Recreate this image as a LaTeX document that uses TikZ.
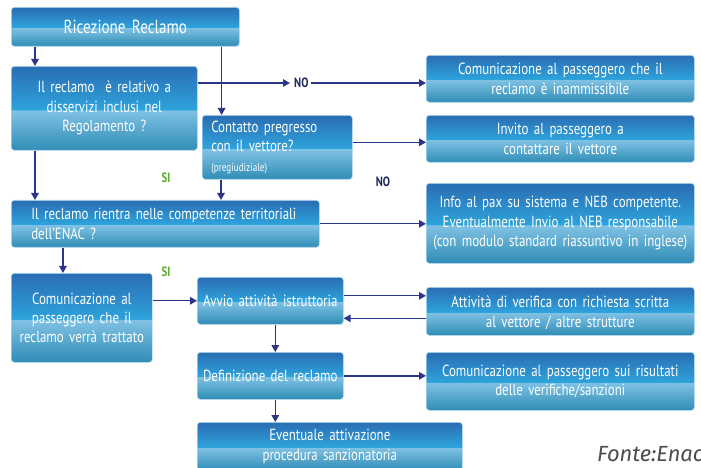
\documentclass[tikz,border=0pt]{standalone}
\usepackage{fontspec}
\setmainfont{PT Sans}[FakeStretch=0.80]
\newfontfamily\sourcefont{Fira Sans}
\usetikzlibrary{arrows.meta}

% box gradient: dark blue top, bright band, light break, teal bottom
\definecolor{gT}{HTML}{2A6DB2}
\definecolor{gM}{HTML}{2EA3DC}
\definecolor{gL}{HTML}{80C2E4}
\definecolor{gB}{HTML}{2F8CB6}
\definecolor{gEdge}{HTML}{B4DAEE}
\definecolor{navy}{HTML}{2B358C}
\definecolor{navyDark}{HTML}{1F2A5C}
\definecolor{siGreen}{HTML}{5BAA2E}

\pgfdeclareverticalshading{glossy}{100bp}{color(0bp)=(gB); color(25bp)=(gB); color(48.8bp)=(gL); color(49.2bp)=(gM); color(75bp)=(gT); color(100bp)=(gT)}

% condensed text with tighter word spaces
\newcommand\boxfont{\fontsize{16.2}{19.5}\selectfont\spaceskip=0.2em plus 0.05em\relax\hyphenpenalty=10000\relax}
\newcommand\bigboxfont{\fontsize{19}{21}\selectfont\spaceskip=0.2em\relax}
\newcommand\notefont{\fontsize{11.5}{14}\selectfont}
\newcommand\labfont{\fontsize{13.5}{15}\selectfont\bfseries}

\begin{document}
\begin{tikzpicture}[x=1bp,y=-1bp,
  gbox/.style={shade, shading=glossy, draw=gEdge, line width=0.6bp,
    rounded corners=3bp, text=white, inner sep=0pt, anchor=north west,
    align=center, font=\boxfont},
  arr/.style={draw=navy, line width=1.4bp, -{Triangle[length=7bp,width=7.5bp]}},
  nolab/.style={text=navyDark, font=\labfont, inner sep=2bp},
  silab/.style={text=siGreen, font=\labfont, inner sep=2bp}]

\fill[white] (0,0) rectangle (701,468);
\useasboundingbox (0,0) rectangle (701,468);

% left / central column
\node[gbox, font=\bigboxfont, text width=228bp, minimum height=39bp] (r) at (11,7) {Ricezione Reclamo};
\node[gbox, text width=186bp, minimum height=84bp] (q1) at (11,66)
  {Il reclamo \ è relativo a\\disservizi inclusi nel\\Regolamento ?};
\node[gbox, align=left, inner xsep=9bp, text width=132bp, minimum height=64bp] (q2) at (202,115)
  {Contatto pregresso\\con il vettore?\\{\notefont (pregiudiziale)}};
\node[gbox, align=left, inner xsep=20bp, text width=268bp, minimum height=47bp] (q3) at (11,200)
  {Il reclamo rientra nelle competenze territoriali\\dell’ENAC ?};
\node[gbox, text width=141bp, minimum height=89bp] (b1) at (11,273)
  {Comunicazione al\\passeggero che il\\reclamo verrà trattato};
\node[gbox, text width=146bp, minimum height=47bp] (b2) at (197,277) {Avvio attività istruttoria};
\node[gbox, text width=146bp, minimum height=47bp] (b3) at (197,352) {Definizione del reclamo};
\node[gbox, text width=265bp, minimum height=48bp] (b4) at (197,422)
  {Eventuale attivazione\\procedura sanzionatoria};

% right column
\node[gbox, text width=268bp, minimum height=47bp] (a1) at (426,55)
  {Comunicazione al passeggero che il\\reclamo è inammissibile};
\node[gbox, text width=268bp, minimum height=47bp] (a2) at (426,115)
  {Invito al passeggero a\\contattare il vettore};
\node[gbox, text width=268bp, minimum height=80bp] (a3) at (426,183)
  {Info al pax su sistema e NEB competente.\\Eventualmente Invio al NEB responsabile\\(con modulo standard riassuntivo in inglese)};
\node[gbox, text width=268bp, minimum height=48bp] (a4) at (426,287)
  {\\[-5bp]Attività di verifica con richiesta scritta\\al vettore / altre strutture};
\node[gbox, text width=268bp, minimum height=58bp] (a5) at (426,352)
  {Comunicazione al passeggero sui risultati\\delle verifiche/sanzioni};

% labels
\coordinate (noA) at (290,83);
\node[nolab, anchor=west] (no1) at (292,83) {NO};
\node[nolab] (no2) at (383,182) {NO};
\node[silab] (si1) at (166,178) {SI};
\node[silab] (si2) at (166,272) {SI};
\node[anchor=base west, font=\sourcefont\itshape\fontsize{22}{24}\selectfont, text=black!70, inner sep=0pt] (src) at (597,461) {Fonte:Enac};

% connector end points that sit off the box centres
\coordinate (q2out) at ([yshift=5bp]q2.east);
\coordinate (b2out) at ([yshift=5bp]b2.east);
\coordinate (b2in) at ([yshift=-17.5bp]b2.east);

% connectors
\draw[arr] ([xshift=24bp]r.south west) -- ([xshift=24bp]q1.north west);
\draw[arr] ([xshift=-18bp]r.south east) -- ([xshift=-18bp]r.south east |- q2.north);
\draw[arr] (q1.east |- noA) -- (noA);
\draw[arr] (no1.east) -- (a1.west |- no1.east);
\draw[arr] (q2out) -- (a2.west |- q2out);
\draw[arr] ([xshift=24bp]q1.south west) -- ([xshift=24bp]q1.south west |- q3.north);
\draw[arr] ([xshift=19bp]q2.south west) -- ([xshift=19bp]q2.south west |- q3.north);
\draw[arr] (q3.east) -- (a3.west |- q3.east);
\draw[arr] ([xshift=52bp]q3.south west) -- ([xshift=52bp]q3.south west |- b1.north);
\draw[arr] (b1.east |- b2.west) -- (b2.west);
\draw[arr] (b2out) -- (a4.west |- b2out);
\draw[arr] (a4.west |- b2in) -- (b2in);
\draw[arr] ([xshift=5bp]b2.south) -- ([xshift=5bp]b3.north);
\draw[arr] (b3.east) -- (a5.west |- b3.east);
\draw[arr] ([xshift=5bp]b3.south) -- ([xshift=5bp]b3.south |- b4.north);
\end{tikzpicture}
\end{document}
